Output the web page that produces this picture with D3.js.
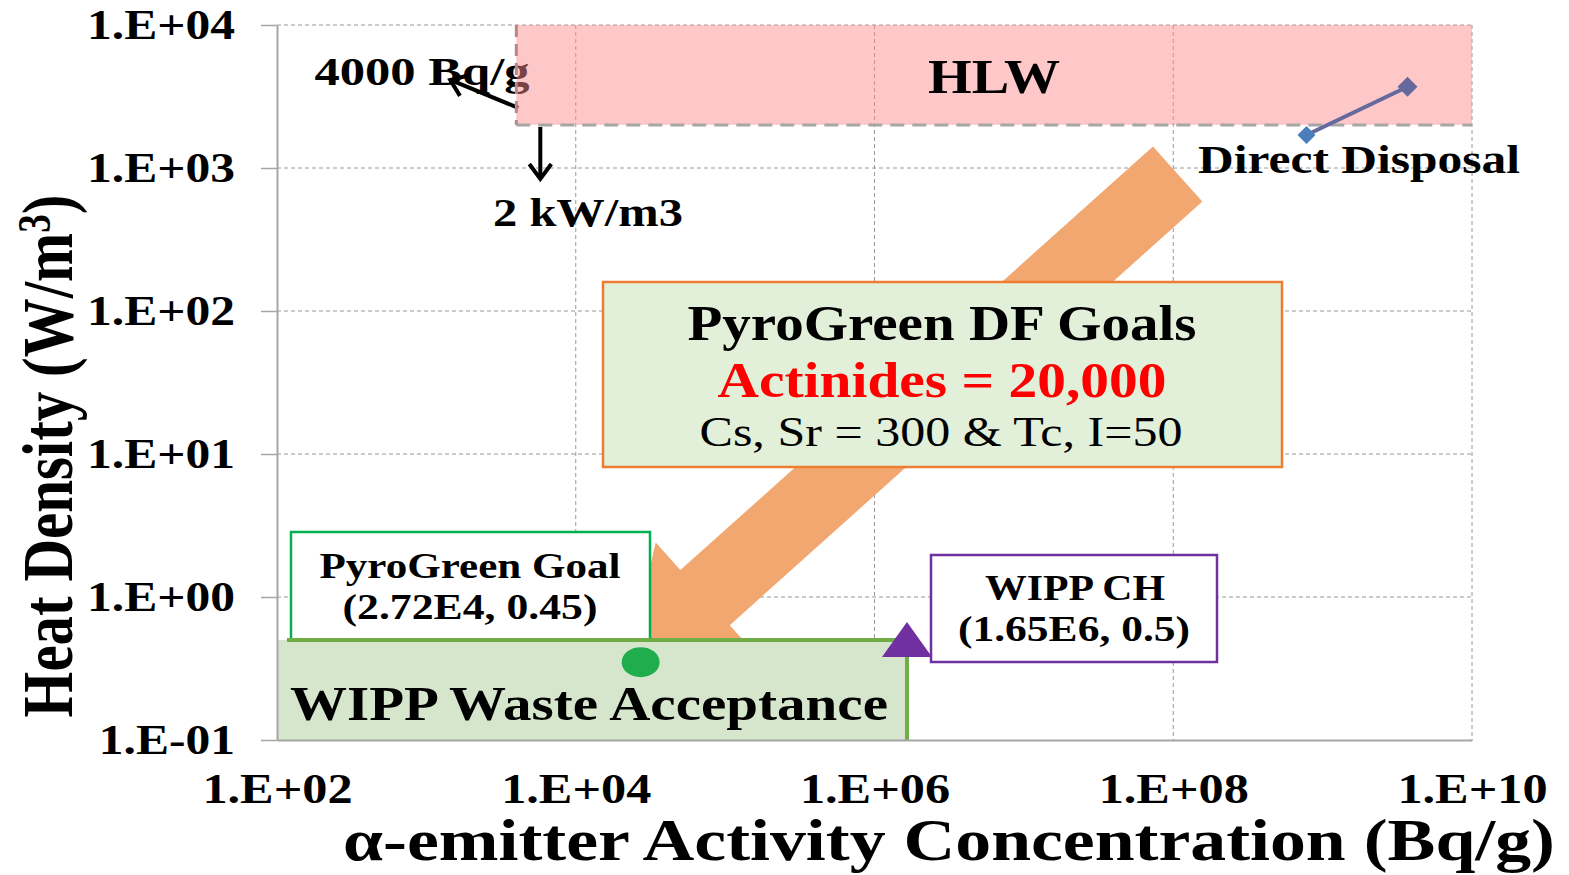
<!DOCTYPE html>
<html>
<head>
<meta charset="utf-8">
<script src="https://cdn.jsdelivr.net/npm/d3@7"></script>
<style>
  body { margin: 0; background: #fff; }
  text { font-family: "Liberation Serif", "Times New Roman", serif; }
</style>
</head>
<body>
<script>
// axis ticks
var xTicks = [1e2, 1e4, 1e6, 1e8, 1e10];
var yTicks = [1e-1, 1e0, 1e1, 1e2, 1e3, 1e4];

// direct disposal series
var dispX = [7.8e8, 3.7e9];
var dispY = [1700, 3700];

// regions
var hlwX = [4000, 1e10], hlwY = [2000, 1e4];
var wippX = [1e2, 1.65e6], wippY = [0.1, 0.5];

// points
var goalPt = [2.72e4, 0.35];
var wippPt = [1.65e6, 0.5];

// big orange arrow, tail -> tip
var arrowFrom = [1.07e8, 908], arrowTo = [2.2e4, 0.32];

var width = 1569, height = 875;
var x = d3.scaleLog().domain([1e2, 1e10]).range([277, 1472]);
var y = d3.scaleLog().domain([1e-1, 1e4]).range([740, 25]);

function fmt(v) {
    var e = Math.round(Math.log10(v));
    return "1.E" + (e < 0 ? "-" : "+") + String(Math.abs(e)).padStart(2, "0");
}

var svg = d3.select("body").append("svg")
    .attr("width", width).attr("height", height);

var defs = svg.append("defs");
defs.append("marker").attr("id", "vhead")
    .attr("viewBox", "-20 -14 24 28").attr("refX", 0).attr("refY", 0)
    .attr("markerWidth", 24).attr("markerHeight", 28)
    .attr("markerUnits", "userSpaceOnUse").attr("orient", "auto")
  .append("path").attr("d", "M-15,-11L0,0L-15,11")
    .attr("fill", "none").attr("stroke", "#000").attr("stroke-width", 4);

// grid
var grid = svg.append("g");
grid.selectAll("line.v").data(xTicks.slice(1)).enter().append("line")
    .attr("x1", d => x(d)).attr("x2", d => x(d))
    .attr("y1", y(1e4)).attr("y2", y(1e-1));
grid.selectAll("line.h").data(yTicks.slice(1)).enter().append("line")
    .attr("y1", d => y(d)).attr("y2", d => y(d))
    .attr("x1", x(1e2)).attr("x2", x(1e10));
grid.selectAll("line").attr("stroke", "#9a9a9a").attr("stroke-width", 1)
    .attr("stroke-dasharray", "4,3");

// helper for text with fixed drawn width
function label(txt, cx, by, size, w, opt) {
    opt = opt || {};
    return svg.append("text")
        .attr("x", cx).attr("y", by)
        .attr("text-anchor", "middle")
        .style("font-size", size + "px")
        .style("font-weight", opt.normal ? "normal" : "bold")
        .attr("fill", opt.fill || "#000")
        .attr("textLength", w).attr("lengthAdjust", "spacingAndGlyphs")
        .text(txt);
}

// 4000 Bq/g + 2 kW/m3 annotations
label("4000 Bq/g", 422, 85, 40, 215);
var cx0 = x(hlwX[0]), cy0 = y(hlwY[0]);
svg.append("line")
    .attr("x1", cx0 + 2).attr("y1", cy0 - 17)
    .attr("x2", cx0 - 66).attr("y2", cy0 - 45)
    .attr("stroke", "#000").attr("stroke-width", 4)
    .attr("marker-end", "url(#vhead)");
svg.append("line")
    .attr("x1", cx0 + 24).attr("y1", cy0 + 2)
    .attr("x2", cx0 + 24).attr("y2", cy0 + 54)
    .attr("stroke", "#000").attr("stroke-width", 4)
    .attr("marker-end", "url(#vhead)");
label("2 kW/m3", 588, 226, 40, 190);

// HLW region
svg.append("rect")
    .attr("x", x(hlwX[0])).attr("y", y(hlwY[1]))
    .attr("width", x(hlwX[1]) - x(hlwX[0]))
    .attr("height", y(hlwY[0]) - y(hlwY[1]))
    .attr("fill", "rgb(255,140,140)").attr("fill-opacity", 0.48);
svg.append("line")
    .attr("x1", x(hlwX[0])).attr("x2", x(hlwX[0]))
    .attr("y1", y(hlwY[1])).attr("y2", y(hlwY[0]))
    .attr("stroke", "#b88888").attr("stroke-width", 3)
    .attr("stroke-dasharray", "12,7");
svg.append("line")
    .attr("x1", x(hlwX[0])).attr("x2", x(hlwX[1]))
    .attr("y1", y(hlwY[0])).attr("y2", y(hlwY[0]))
    .attr("stroke", "#a6a6a6").attr("stroke-width", 3)
    .attr("stroke-dasharray", "14,8");
label("HLW", 994, 93, 48, 132);

// direct disposal line
var disp = dispX.map((d, i) => [d, dispY[i]]);
svg.append("path").datum(disp)
    .attr("d", d3.line().x(d => x(d[0])).y(d => y(d[1])))
    .attr("fill", "none").attr("stroke", "#66699e").attr("stroke-width", 4);
svg.selectAll("path.dm").data(disp).enter().append("path")
    .attr("transform", d => "translate(" + x(d[0]) + "," + y(d[1]) + ")")
    .attr("d", (d, i) => i === 0 ? "M0,-9L9,0L0,9L-9,0Z" : "M0,-10L10,0L0,10L-10,0Z")
    .attr("fill", (d, i) => i === 0 ? "#4a7ebb" : "#66699e");

// big orange arrow
(function () {
    var p0 = [x(arrowFrom[0]), y(arrowFrom[1])];
    var p1 = [x(arrowTo[0]), y(arrowTo[1])];
    var dx = p1[0] - p0[0], dy = p1[1] - p0[1];
    var L = Math.sqrt(dx * dx + dy * dy);
    var d = [dx / L, dy / L], n = [d[1], -d[0]];
    var hw = 37, hh = 74, hl = 105;
    var b = [p1[0] - d[0] * hl, p1[1] - d[1] * hl];
    var pts = [
        [p0[0] + n[0] * hw, p0[1] + n[1] * hw],
        [b[0] + n[0] * hw, b[1] + n[1] * hw],
        [b[0] + n[0] * hh, b[1] + n[1] * hh],
        p1,
        [b[0] - n[0] * hh, b[1] - n[1] * hh],
        [b[0] - n[0] * hw, b[1] - n[1] * hw],
        [p0[0] - n[0] * hw, p0[1] - n[1] * hw]
    ];
    svg.append("polygon").attr("points", pts.map(p => p.join(",")).join(" "))
        .attr("fill", "#f2a770");
})();

label("Direct Disposal", 1359, 173, 40, 322);

// DF goals box
svg.append("rect").attr("x", 603).attr("y", 282).attr("width", 679).attr("height", 185)
    .attr("fill", "#e2efd9").attr("stroke", "#ed7d31").attr("stroke-width", 2.5);
label("PyroGreen DF Goals", 942, 340, 50, 509);
label("Actinides = 20,000", 942, 397, 50, 449, { fill: "#ff0000" });
label("Cs, Sr = 300 & Tc, I=50", 941, 446, 42, 483, { normal: true });

// PyroGreen goal box
svg.append("rect").attr("x", 291).attr("y", 532).attr("width", 359).attr("height", 108)
    .attr("fill", "#fff").attr("stroke", "#00b050").attr("stroke-width", 2.5);
label("PyroGreen Goal", 470, 578, 36, 301);
label("(2.72E4, 0.45)", 470, 619, 36, 255);

// WIPP acceptance region
svg.append("rect")
    .attr("x", x(wippX[0])).attr("y", y(wippY[1]))
    .attr("width", x(wippX[1]) - x(wippX[0]))
    .attr("height", y(wippY[0]) - y(wippY[1]))
    .attr("fill", "#d6e6cd");
svg.append("path")
    .attr("d", "M" + (x(wippX[0]) + 10) + "," + y(wippY[1]) +
        "H" + x(wippX[1]) + "V" + y(wippY[0]))
    .attr("fill", "none").attr("stroke", "#70ad47").attr("stroke-width", 4);
label("WIPP Waste Acceptance", 589, 720, 48, 598);

svg.append("ellipse")
    .attr("cx", x(goalPt[0])).attr("cy", y(goalPt[1]))
    .attr("rx", 19).attr("ry", 15).attr("fill", "#1fae4b");
svg.append("path")
    .attr("transform", "translate(" + x(wippPt[0]) + "," + y(wippPt[1]) + ")")
    .attr("d", "M0,-18L25,17L-25,17Z").attr("fill", "#7030a0");

// WIPP CH box
svg.append("rect").attr("x", 931).attr("y", 555).attr("width", 286).attr("height", 107)
    .attr("fill", "#fff").attr("stroke", "#7030a0").attr("stroke-width", 2.5);
label("WIPP CH", 1075, 600, 36, 180);
label("(1.65E6, 0.5)", 1074, 641, 36, 232);

// axes
function styleAxis(g, size, k) {
    g.select(".domain").attr("stroke", "#a6a6a6").attr("stroke-width", 2);
    g.selectAll(".tick line").attr("stroke", "#a6a6a6").attr("stroke-width", 1.5);
    g.selectAll(".tick text")
        .style("font-family", '"Liberation Serif", serif')
        .style("font-weight", "bold").style("font-size", size + "px")
        .attr("fill", "#000")
        .each(function () {
            var w = this.getComputedTextLength();
            d3.select(this).attr("textLength", w * k).attr("lengthAdjust", "spacingAndGlyphs");
        });
}
var gy = svg.append("g").attr("transform", "translate(" + x(1e2) + ",0)")
    .call(d3.axisLeft(y).tickValues(yTicks).tickFormat(fmt)
        .tickSize(16).tickSizeOuter(0).tickPadding(26));
styleAxis(gy, 42, 1.18);
var gx = svg.append("g").attr("transform", "translate(0," + y(1e-1) + ")")
    .call(d3.axisBottom(x).tickValues(xTicks).tickFormat(fmt)
        .tickSize(0).tickSizeOuter(0).tickPadding(32));
styleAxis(gx, 43, 1.17);

// axis titles
label("\u03b1-emitter Activity Concentration (Bq/g)", 949, 860, 60, 1212);

var yt = svg.append("text")
    .attr("text-anchor", "middle")
    .style("font-size", "60px").style("font-weight", "bold");
yt.append("tspan").text("Heat Density (W/m");
yt.append("tspan").text("3").style("font-size", "38px").attr("dy", -18);
yt.append("tspan").text(")").attr("dy", 18);
var yw = yt.node().getBBox().width;
yt.attr("transform", "translate(72,456) scale(1.2,1) rotate(-90) scale(" + (523 / yw) + ",1)");
</script>
</body>
</html>
